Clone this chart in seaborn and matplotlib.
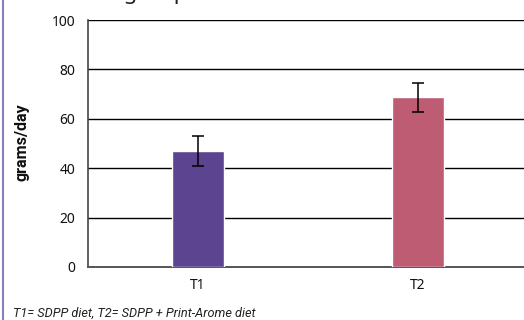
import matplotlib
matplotlib.use("Agg")
import matplotlib.pyplot as plt
import seaborn as sns
import pandas as pd
from matplotlib.lines import Line2D

categories = ["T1", "T2"]
values = [47.0, 68.7]
errors = [6.0, 5.9]
colors = ["#5D4491", "#BD5C73"]
yticks = [0, 20, 40, 60, 80, 100]
ylabel = "grams/day"
footnote = "T1= SDPP diet, T2= SDPP + Print-Arome diet"
title = "Feed intake of each group"

sns.set_theme(style="white")
plt.rcParams["font.family"] = ["Noto Sans", "DejaVu Sans"]

df = pd.DataFrame({"treatment": categories, "value": values})

fig = plt.figure(figsize=(5.24, 3.2), dpi=100)
ax = fig.add_axes([88 / 524, 53 / 320, 440 / 524, 247 / 320])

sns.barplot(data=df, x="treatment", y="value", hue="treatment",
            palette=colors, width=0.236, errorbar=None, legend=False,
            saturation=1, ax=ax, zorder=3)

xs = [p.get_x() + p.get_width() / 2 for p in ax.patches]
ax.errorbar(xs, values, yerr=errors, fmt="none", ecolor="black",
            elinewidth=1.1, capsize=4.5, capthick=1.1, zorder=4)

ax.set_ylim(0, 100)
ax.set_xlim(-0.5, 1.5)
ax.set_yticks(yticks)
ax.set_yticklabels([str(t) for t in yticks], fontsize=10, color="#111111")
for y in yticks[1:]:
    ax.axhline(y, color="black", lw=1.0, zorder=1)

ax.set_xticks([0.5])
ax.set_xticklabels([])
ax.tick_params(axis="x", which="major", direction="out", length=5,
               width=1, color="#444444")
ax.set_xticks([0, 1], minor=True)
ax.set_xticklabels(categories, minor=True, fontsize=10, color="#111111")
ax.tick_params(axis="x", which="minor", length=0, pad=8)
ax.tick_params(axis="y", direction="inout", length=10, width=1,
               color="#444444", pad=4)

for s in ["top", "right"]:
    ax.spines[s].set_visible(False)
ax.spines["left"].set_color("#444444")
ax.spines["bottom"].set_color("#555555")
ax.spines["left"].set_linewidth(1.2)
ax.spines["bottom"].set_linewidth(1.4)

ax.set_xlabel("")
ax.set_ylabel("")
fig.text(22 / 524, 1 - 142 / 320, ylabel, fontsize=11.6, fontweight="bold",
         family=["Roboto", "DejaVu Sans"],
         rotation=90, ha="center", va="center", color="#111111")

fig.text(13 / 524, 1 - 313 / 320, footnote, fontsize=9.2, style="italic",
         family=["Roboto", "DejaVu Sans"],
         ha="left", va="center", color="#222222")
fig.text(187 / 524, 1 + 1.5 / 320, title, fontsize=16, ha="right",
         va="baseline", color="#222222")

fig.add_artist(Line2D([3 / 524, 3 / 524], [0, 1], color="#8A7DBA", lw=1.5,
                      transform=fig.transFigure))

fig.savefig("out.png", dpi=100)
